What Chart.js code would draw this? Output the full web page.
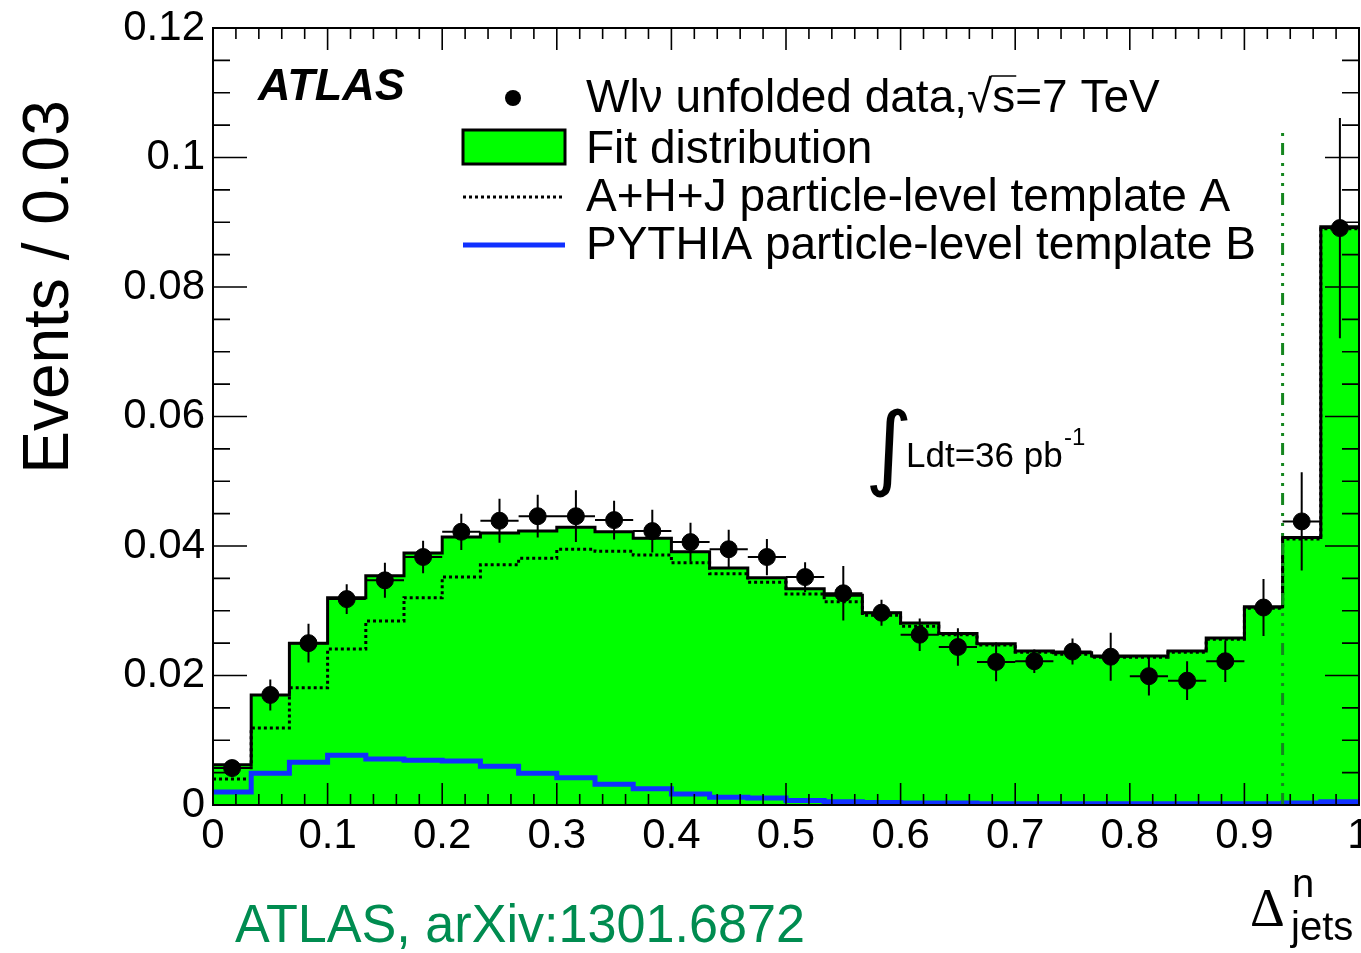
<!DOCTYPE html>
<html>
<head>
<meta charset="utf-8">
<script src="https://cdn.jsdelivr.net/npm/chart.js@4.4.1/dist/chart.umd.min.js"></script>
<style>
  html, body { margin: 0; padding: 0; background: #fff; }
  canvas { display: block; }
</style>
</head>
<body>
<canvas id="c" width="1361" height="953"></canvas>
<script>
// 30 bins of width 1/30 on [0, 1]
const nBins = 30;
const binLow = Array.from({ length: nBins }, (_, i) => i / nBins);

// unfolded data and errors
const dataValues = [0.0057, 0.0170, 0.0250, 0.0318, 0.0347, 0.0383, 0.0422, 0.0439, 0.0446, 0.0446,
                    0.0440, 0.0423, 0.0406, 0.0395, 0.0383, 0.0352, 0.0327, 0.0297, 0.0263, 0.0244,
                    0.0221, 0.0222, 0.0237, 0.0229, 0.0199, 0.0192, 0.0222, 0.0305, 0.0438, 0.0891];
const dataErrors = [0.0010, 0.0024, 0.0030, 0.0023, 0.0027, 0.0025, 0.0028, 0.0034, 0.0033, 0.0040,
                    0.0030, 0.0033, 0.0030, 0.0030, 0.0028, 0.0023, 0.0042, 0.0020, 0.0025, 0.0029,
                    0.0030, 0.0018, 0.0020, 0.0037, 0.0030, 0.0030, 0.0032, 0.0044, 0.0076, 0.0170];

// fit distribution
const fitValues = [0.0062, 0.0170, 0.0250, 0.0320, 0.0354, 0.0389, 0.0414, 0.0420, 0.0423, 0.0429,
                   0.0422, 0.0412, 0.0391, 0.0366, 0.0351, 0.0334, 0.0324, 0.0297, 0.0281, 0.0265,
                   0.0249, 0.0238, 0.0235, 0.0230, 0.0230, 0.0238, 0.0258, 0.0306, 0.0413, 0.0893];

// A+H+J template A (dotted)
const templA = [0.0040, 0.0119, 0.0181, 0.0241, 0.0284, 0.0320, 0.0352, 0.0371, 0.0381, 0.0395,
                0.0392, 0.0386, 0.0374, 0.0357, 0.0344, 0.0326, 0.0314, 0.0293, 0.0276, 0.0263,
                0.0247, 0.0236, 0.0233, 0.0228, 0.0228, 0.0236, 0.0256, 0.0304, 0.0411, 0.0890];

// PYTHIA template B (blue)
const templB = [0.0020, 0.0049, 0.0066, 0.0077, 0.0071, 0.0069, 0.0068, 0.0060, 0.0049, 0.0042,
                0.0032, 0.0025, 0.0017, 0.0012, 0.0011, 0.0007, 0.0005, 0.0004, 0.0003, 0.0003,
                0.0002, 0.0002, 0.0002, 0.0002, 0.0002, 0.0002, 0.0002, 0.0002, 0.0003, 0.0005];

// dash-dotted cut line
const cutX = binLow[28];
const cutTop = 0.1046;

const xTicks = [0, 0.1, 0.2, 0.3, 0.4, 0.5, 0.6, 0.7, 0.8, 0.9, 1];
const yTicks = [0, 0.02, 0.04, 0.06, 0.08, 0.1, 0.12];

const FONT = "'Liberation Sans', Arial, Helvetica, sans-serif";

function histPoints(vals) {
  const pts = vals.map((v, i) => ({ x: binLow[i], y: v }));
  pts.push({ x: 1, y: vals[vals.length - 1] });
  return pts;
}

// error bars for the data points
const errorBars = {
  id: 'errorBars',
  afterDatasetsDraw(chart) {
    const { ctx, scales: { x, y } } = chart;
    ctx.save();
    ctx.strokeStyle = '#000';
    ctx.lineWidth = 2;
    ctx.beginPath();
    dataValues.forEach((v, i) => {
      const xl = x.getPixelForValue(binLow[i]);
      const xr = x.getPixelForValue(binLow[i] + 1 / nBins);
      const xc = (xl + xr) / 2;
      const yc = y.getPixelForValue(v);
      ctx.moveTo(xl, yc); ctx.lineTo(xr, yc);
      ctx.moveTo(xc, y.getPixelForValue(v - dataErrors[i]));
      ctx.lineTo(xc, y.getPixelForValue(v + dataErrors[i]));
    });
    ctx.stroke();
    ctx.restore();
  }
};

// ROOT style frame, inward ticks, legend and labels
const decorations = {
  id: 'decorations',
  afterDraw(chart) {
    const { ctx, chartArea: a, scales: { x, y } } = chart;
    ctx.save();
    ctx.strokeStyle = '#000';
    ctx.lineWidth = 2;
    ctx.strokeRect(a.left, a.top, a.right - a.left, a.bottom - a.top);

    ctx.lineWidth = 1.6;
    ctx.beginPath();
    for (let k = 0; k <= 50; k++) {
      const px = x.getPixelForValue(k / 50);
      const len = k % 5 === 0 ? 22 : 11;
      ctx.moveTo(px, a.bottom); ctx.lineTo(px, a.bottom - len);
      ctx.moveTo(px, a.top); ctx.lineTo(px, a.top + len);
    }
    for (let k = 0; k <= 24; k++) {
      const py = y.getPixelForValue(k * 0.005);
      const len = k % 4 === 0 ? 34 : 17;
      ctx.moveTo(a.left, py); ctx.lineTo(a.left + len, py);
      ctx.moveTo(a.right, py); ctx.lineTo(a.right - len, py);
    }
    ctx.stroke();

    // x tick labels
    ctx.fillStyle = '#000';
    ctx.font = '42px ' + FONT;
    ctx.textAlign = 'center';
    ctx.textBaseline = 'top';
    xTicks.forEach(v => ctx.fillText(String(v), x.getPixelForValue(v), a.bottom + 10));

    // y title
    ctx.save();
    ctx.translate(68, 287);
    ctx.rotate(-Math.PI / 2);
    ctx.font = '64px ' + FONT;
    ctx.textAlign = 'center';
    ctx.textBaseline = 'alphabetic';
    ctx.fillText('Events / 0.03', 0, 0);
    ctx.restore();

    ctx.textAlign = 'left';
    ctx.textBaseline = 'alphabetic';

    // x title
    ctx.font = "54px 'Liberation Serif', 'DejaVu Serif', serif";
    ctx.fillText('Δ', 1250, 926);
    ctx.font = '40px ' + FONT;
    ctx.fillText('n', 1292, 897);
    ctx.fillText('jets', 1291, 940);

    // ATLAS label
    ctx.font = 'italic bold 45px ' + FONT;
    ctx.fillText('ATLAS', 258, 100);

    // luminosity
    ctx.font = "92px 'DejaVu Sans', sans-serif";
    ctx.fillText('∫', 865, 478);
    ctx.font = '35px ' + FONT;
    ctx.fillText('Ldt=36 pb', 906, 467);
    ctx.font = '24px ' + FONT;
    ctx.fillText('-1', 1064, 445);

    // legend
    const ds = chart.data.datasets;
    ctx.fillStyle = '#000';
    ctx.beginPath();
    ctx.arc(513, 98, 8, 0, Math.PI * 2);
    ctx.fill();

    ctx.fillStyle = ds[0].backgroundColor;
    ctx.fillRect(463, 130, 102, 34);
    ctx.strokeStyle = ds[0].borderColor;
    ctx.lineWidth = 3;
    ctx.strokeRect(463, 130, 102, 34);

    ctx.setLineDash(ds[1].borderDash);
    ctx.strokeStyle = ds[1].borderColor;
    ctx.lineWidth = ds[1].borderWidth;
    ctx.beginPath(); ctx.moveTo(463, 197); ctx.lineTo(565, 197); ctx.stroke();
    ctx.setLineDash([]);

    ctx.strokeStyle = ds[2].borderColor;
    ctx.lineWidth = ds[2].borderWidth;
    ctx.beginPath(); ctx.moveTo(463, 245); ctx.lineTo(565, 245); ctx.stroke();

    ctx.fillStyle = '#000';
    ctx.font = '46px ' + FONT;
    const t1 = 'Wlν unfolded data,';
    ctx.fillText(t1, 586, 112);
    let px = 586 + ctx.measureText(t1).width;
    ctx.fillText('√', px, 112);
    px += ctx.measureText('√').width;
    const sw = ctx.measureText('s').width;
    ctx.fillText('s=7 TeV', px, 112);
    ctx.strokeStyle = '#000';
    ctx.lineWidth = 1.5;
    ctx.beginPath(); ctx.moveTo(px - 1, 76); ctx.lineTo(px + sw + 1, 76); ctx.stroke();

    ctx.fillText('Fit distribution', 586, 163);
    ctx.fillText('A+H+J particle-level template A', 586, 211);
    ctx.fillText('PYTHIA particle-level template B', 586, 259);

    // reference
    ctx.fillStyle = '#008c50';
    ctx.font = '54px ' + FONT;
    const ref = 'ATLAS, arXiv:1301.6872';
    const rw = ctx.measureText(ref).width;
    ctx.save();
    ctx.translate(235, 942);
    ctx.scale(570 / rw, 1);
    ctx.fillText(ref, 0, 0);
    ctx.restore();

    ctx.restore();
  }
};

new Chart(document.getElementById('c'), {
  type: 'line',
  data: {
    datasets: [
      {
        label: 'Fit distribution',
        data: histPoints(fitValues),
        stepped: true,
        fill: 'origin',
        backgroundColor: '#00ff00',
        borderColor: '#000',
        borderWidth: 3,
        pointRadius: 0,
        order: 5
      },
      {
        label: 'A+H+J particle-level template A',
        data: histPoints(templA),
        stepped: true,
        fill: false,
        borderColor: '#000',
        borderWidth: 3,
        borderDash: [3, 3],
        pointRadius: 0,
        order: 4
      },
      {
        label: 'PYTHIA particle-level template B',
        data: histPoints(templB),
        stepped: true,
        fill: false,
        borderColor: '#1030ff',
        borderWidth: 5,
        pointRadius: 0,
        order: 3
      },
      {
        label: 'cut',
        data: [{ x: cutX, y: 0 }, { x: cutX, y: cutTop }],
        fill: false,
        borderColor: '#14861e',
        borderWidth: 3,
        borderDash: [12, 7, 3, 7, 3, 7, 3, 8],
        pointRadius: 0,
        order: 2
      },
      {
        label: 'Wlν unfolded data',
        type: 'scatter',
        data: dataValues.map((v, i) => ({ x: binLow[i] + 0.5 / nBins, y: v })),
        showLine: false,
        backgroundColor: '#000',
        borderColor: '#000',
        pointRadius: 8.5,
        pointHoverRadius: 8.5,
        order: 1
      }
    ]
  },
  options: {
    responsive: false,
    animation: false,
    layout: { autoPadding: false, padding: { top: 28, right: 2, left: 0, bottom: 0 } },
    plugins: {
      legend: { display: false },
      tooltip: { enabled: false }
    },
    scales: {
      x: {
        type: 'linear',
        min: 0,
        max: 1,
        afterBuildTicks: s => { s.ticks = xTicks.map(v => ({ value: v })); },
        afterFit: s => { s.height = 148; s.paddingLeft = 0; s.paddingRight = 0; },
        grid: { display: false, drawTicks: false },
        border: { display: false },
        ticks: { display: false }
      },
      y: {
        type: 'linear',
        min: 0,
        max: 0.12,
        afterBuildTicks: s => { s.ticks = yTicks.map(v => ({ value: v })); },
        afterFit: s => { s.width = 213; s.paddingTop = 0; s.paddingBottom = 0; },
        grid: { display: false, drawTicks: false },
        border: { display: false },
        ticks: {
          padding: 8,
          autoSkip: false,
          color: '#000',
          font: { family: FONT, size: 42 },
          callback: v => String(+v.toFixed(3))
        }
      }
    }
  },
  plugins: [errorBars, decorations]
});
</script>
</body>
</html>
